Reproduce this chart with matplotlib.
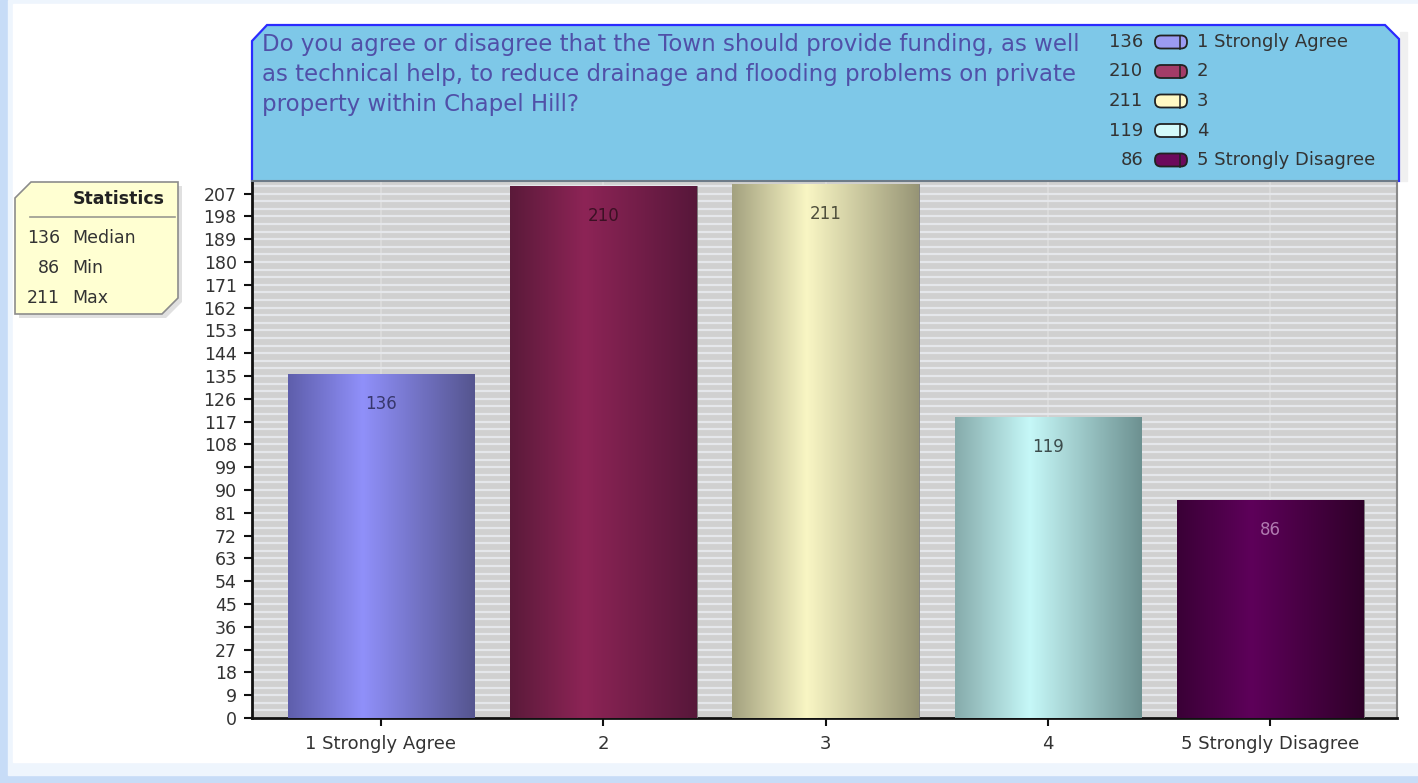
"""
Bar chart of survey answers about Town funding for drainage and flooding help.
"""

import matplotlib.pyplot as plt
import numpy as np
from matplotlib.colors import LinearSegmentedColormap
from matplotlib.patches import FancyBboxPatch, Polygon, Rectangle


categories = ["1 Strongly Agree", "2", "3", "4", "5 Strongly Disagree"]
counts = [136, 210, 211, 119, 86]
y_ticks = list(range(0, 208, 9))
title_lines = [
    "Do you agree or disagree that the Town should provide funding, as well",
    "as technical help, to reduce drainage and flooding problems on private",
    "property within Chapel Hill?",
]
stat_names = ["Median", "Min", "Max"]

# gradient stops for each bar: left edge, highlight, right edge
bar_left = ["#5e5eab", "#5b1a3a", "#a3a17f", "#86abab", "#3a0036"]
bar_peak = ["#9090fa", "#8d2456", "#f9f6c4", "#c6f8f8", "#5e005a"]
bar_right = ["#55558f", "#57173a", "#979576", "#6d9191", "#2f0029"]
legend_colors = ["#9b9bf2", "#a33c68", "#fff9c4", "#d4fafa", "#6c0a5c"]
value_colors = ["#37376c", "#3c1024", "#4f4f3c", "#3c4c4c", "#b07ab0"]

W, H = 1418, 783

fig = plt.figure(figsize=(W / 100, H / 100), dpi=100)

# pixel overlay for the frame, title box, legend and statistics box
bg = fig.add_axes([0, 0, 1, 1], zorder=0)
bg.set_xlim(0, W)
bg.set_ylim(H, 0)
bg.axis("off")

bg.add_patch(Rectangle((0, 0), W, H, color="#c7dcf7"))
bg.add_patch(Rectangle((8, 0), W - 8, 775, color="#eef5fd"))
bg.add_patch(Rectangle((13, 4), W - 13, 758, color="white"))

# title box with chamfered top corners
title_pts = [(252, 181), (252, 41), (267, 25), (1385, 25), (1399, 39), (1399, 181)]
bg.add_patch(Rectangle((1400, 32), 7, 149, color="#f0f0f0"))
bg.add_patch(Polygon(title_pts, closed=True, facecolor="#7ec8e8", edgecolor="none"))
xs, ys = zip(*title_pts)
bg.plot(xs, ys, color="#2b2bff", lw=1.6, solid_joinstyle="miter")

for i, line in enumerate(title_lines):
    bg.text(262, 45 + i * 29.5, line, fontsize=16.5, color="#5050a8",
            ha="left", va="center")

# legend inside the title box
for i, (name, val) in enumerate(zip(categories, counts)):
    y = 42 + i * 29.5
    bg.text(1143, y, str(val), fontsize=13, color="#333333", ha="right", va="center")
    bg.add_patch(FancyBboxPatch((1155, y - 6.5), 32, 13,
                                boxstyle="round,pad=0,rounding_size=6",
                                facecolor=legend_colors[i], edgecolor="#222222", lw=1.3))
    bg.plot([1180, 1180], [y - 6.5, y + 6.5], color="#222222", lw=1.1)
    bg.text(1197, y, name, fontsize=13, color="#333333", ha="left", va="center")

# statistics box with chamfered corners and soft shadow
stats_pts = [(15, 198), (31, 182), (178, 182), (178, 298), (162, 314), (15, 314)]
shadow_pts = [(x + 4, y + 4) for x, y in stats_pts]
bg.add_patch(Polygon(shadow_pts, closed=True, facecolor="#e0e0e0", edgecolor="none"))
bg.add_patch(Polygon(stats_pts, closed=True, facecolor="#ffffd2",
                     edgecolor="#8c8c8c", lw=1.2))
bg.text(165, 199, "Statistics", fontsize=12.5, fontweight="bold", color="#222222",
        ha="right", va="center")
bg.plot([30, 175], [217, 217], color="#9a9a90", lw=1.2)
stat_values = [int(np.median(counts)), min(counts), max(counts)]
for i, (name, val) in enumerate(zip(stat_names, stat_values)):
    y = 238 + i * 30
    bg.text(60, y, str(val), fontsize=12.5, color="#333333", ha="right", va="center")
    bg.text(72, y, name, fontsize=12.5, color="#333333", ha="left", va="center")

# main plot area
ax = fig.add_axes([252 / W, 1 - 718 / H, (1397 - 252) / W, (718 - 181) / H], zorder=1)
ax.set_facecolor("#d0d0d0")

x = np.arange(len(categories))
bars = ax.bar(x, counts, width=0.84, color=bar_left, edgecolor="#7a7a7a",
              linewidth=0.6, zorder=3)

grad = np.linspace(0, 1, 256).reshape(1, -1)
for i, patch in enumerate(bars):
    cmap = LinearSegmentedColormap.from_list(
        f"bar{i}", [(0, bar_left[i]), (0.4, bar_peak[i]), (1, bar_right[i])])
    x0 = patch.get_x()
    im = ax.imshow(grad, cmap=cmap, aspect="auto", zorder=3.5,
                   extent=(x0, x0 + patch.get_width(), 0, patch.get_height()))
    im.set_clip_path(patch)
    ax.annotate(str(counts[i]), (x[i], counts[i]), xytext=(0, -30),
                textcoords="offset pixels", ha="center", va="center",
                fontsize=12, color=value_colors[i], zorder=5)

ax.set_xlim(-0.58, 4.57)
ax.set_ylim(0, 212)

ax.set_yticks(y_ticks)
ax.set_yticks(np.arange(0, 212, 3), minor=True)
ax.set_xticks(x)
ax.set_xticklabels(categories)
ax.tick_params(axis="y", which="major", labelsize=12.5, length=6, width=1.5,
               colors="#111111", labelcolor="#333333", pad=5)
ax.tick_params(axis="y", which="minor", length=0)
ax.tick_params(axis="x", labelsize=13, length=6, width=1.5,
               colors="#111111", labelcolor="#333333", pad=6)

ax.grid(which="both", axis="y", color="#e5e7eb", lw=1.6, zorder=1)
ax.grid(which="major", axis="x", color="#dddddd", lw=1.2, zorder=1)
ax.set_axisbelow(True)

ax.spines["left"].set_color("#111111")
ax.spines["left"].set_linewidth(2)
ax.spines["bottom"].set_color("#111111")
ax.spines["bottom"].set_linewidth(2)
ax.spines["top"].set_color("#6d7b88")
ax.spines["top"].set_linewidth(1.5)
ax.spines["right"].set_color("#8a8a8a")
ax.spines["right"].set_linewidth(1.5)

fig.savefig("out.png", dpi=100)
